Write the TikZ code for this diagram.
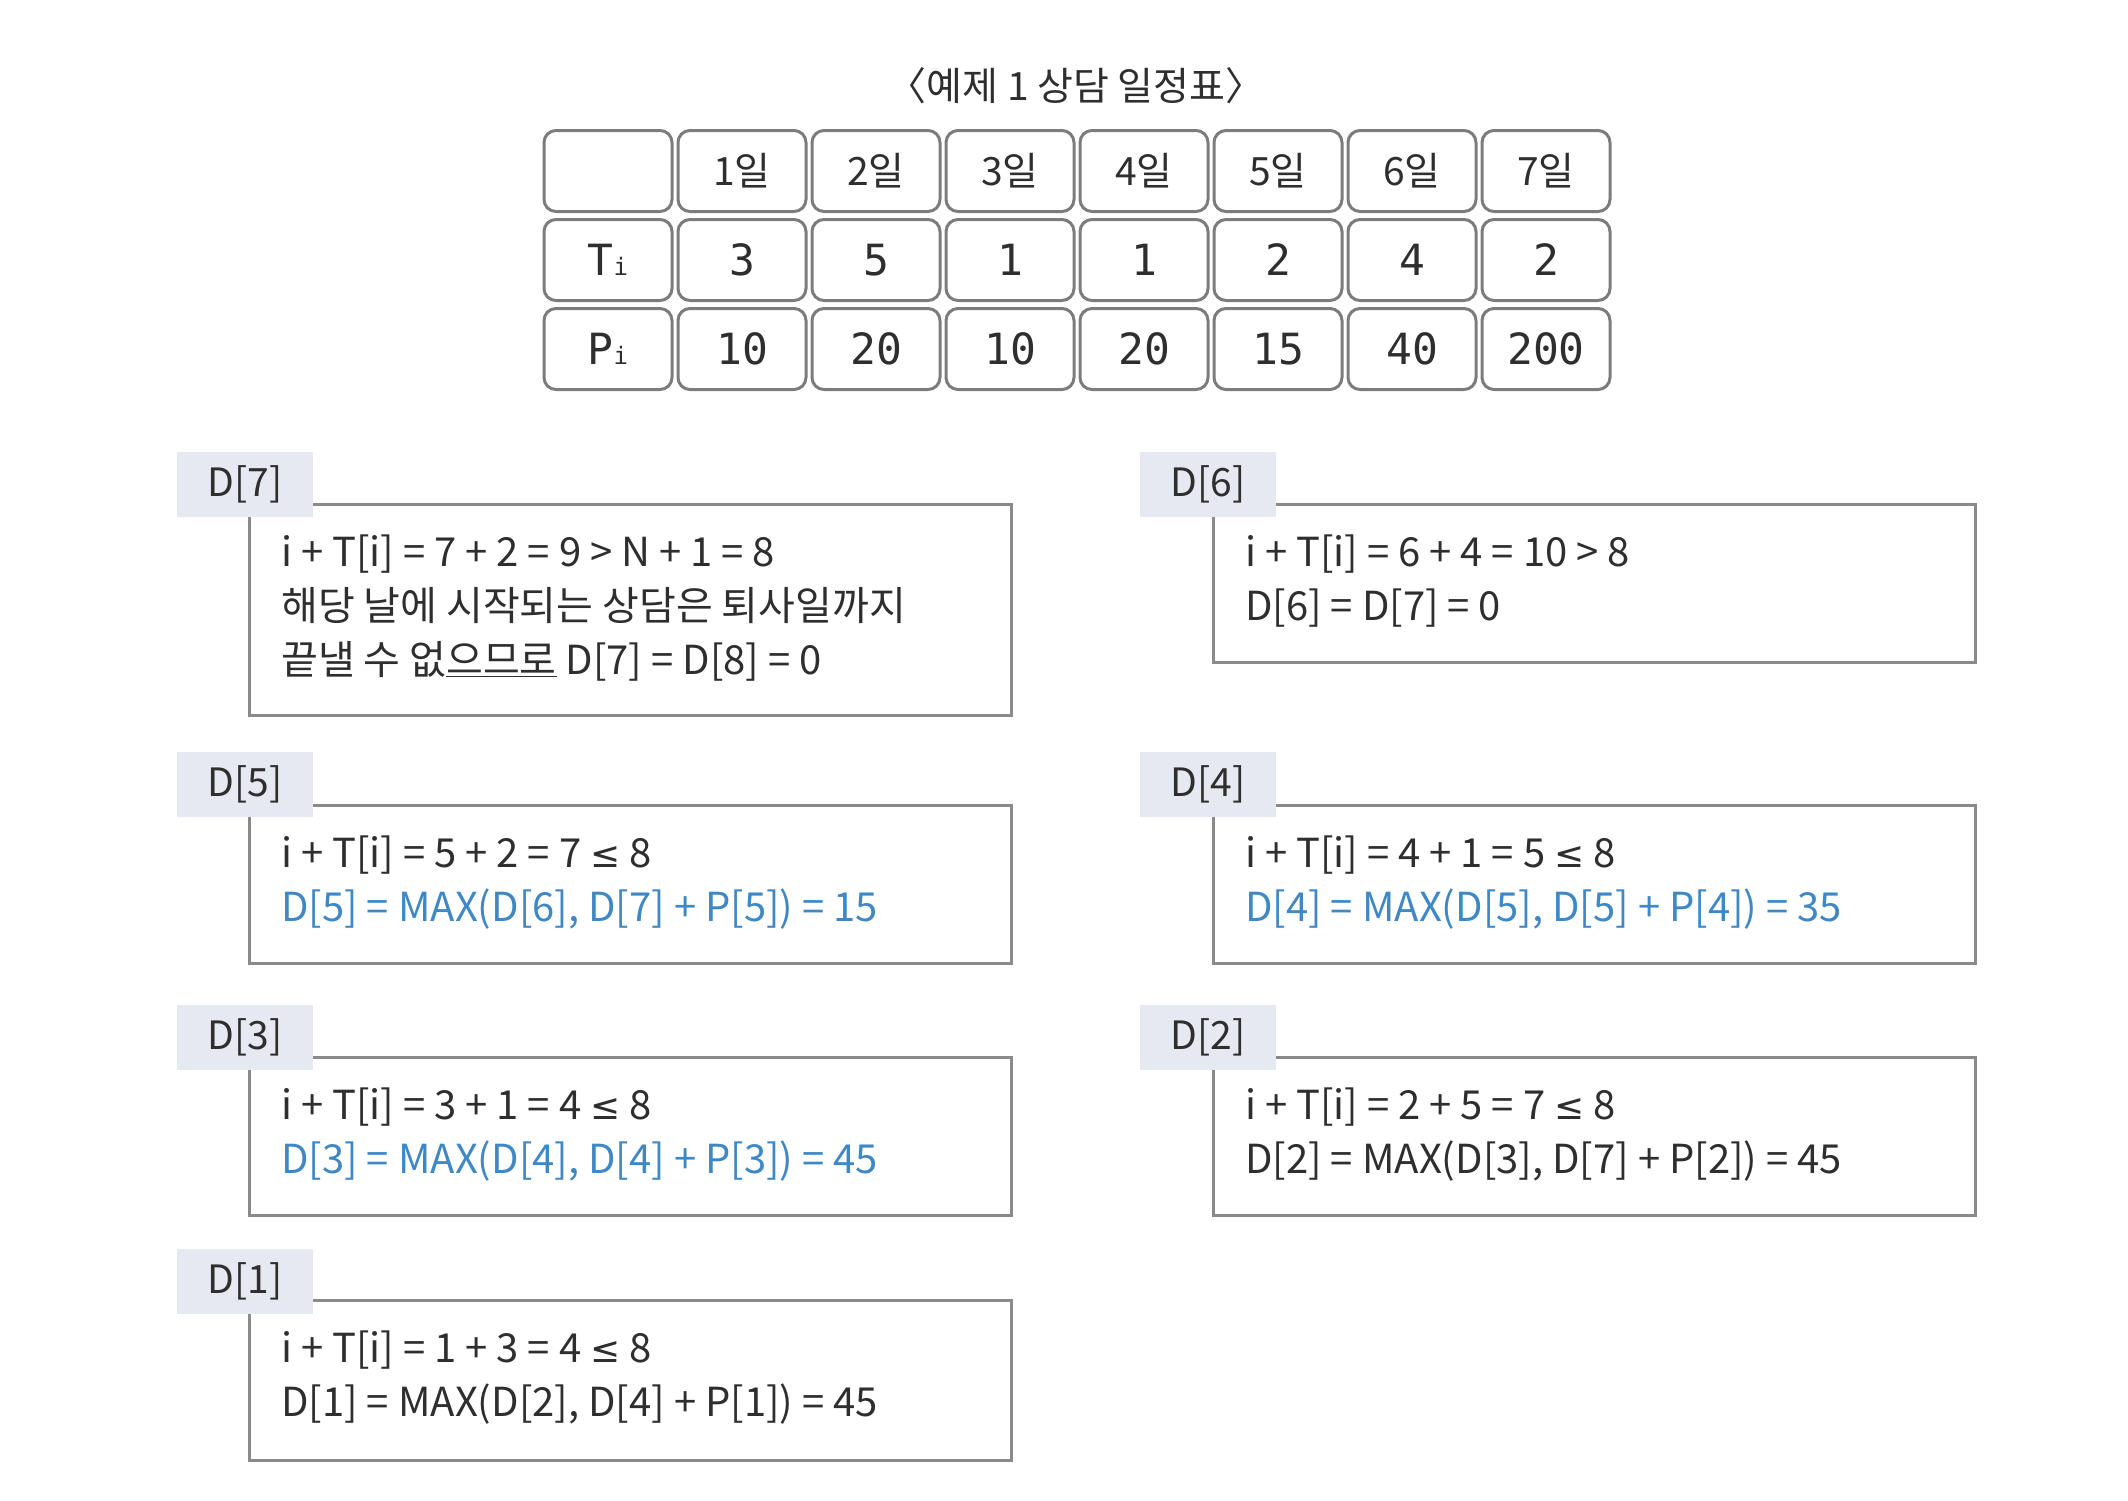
\documentclass[tikz,border=0pt]{standalone}
\usepackage{fontspec}
\setmainfont{Noto Sans CJK KR}
\newfontfamily\monofont{DejaVu Sans Mono}
\newfontfamily\symfont{DejaVu Sans}

\definecolor{tabgray}{HTML}{E6E9F1}
\definecolor{linegray}{HTML}{8A8A8A}
\definecolor{cellgray}{HTML}{7C7C7C}
\definecolor{textgray}{HTML}{2E2E2E}
\definecolor{formblue}{HTML}{3F88C5}

\tikzset{
    cell/.style={draw=cellgray, line width=3pt, rounded corners=12pt,
        minimum width=128pt, minimum height=81pt, inner sep=0pt,
        text=textgray, font=\monofont\fontsize{43}{43}\selectfont},
    daycell/.style={cell, font=\fontsize{39}{39}\selectfont},
    stepbox/.style={draw=linegray, line width=2.5pt, anchor=north west,
        inner sep=0pt, minimum width=762pt},
    dtab/.style={fill=tabgray, anchor=north west, minimum width=136pt,
        minimum height=65pt, inner sep=0pt, text=textgray,
        font=\fontsize{39}{39}\selectfont},
    dtext/.style={anchor=north west, align=left, inner sep=0pt,
        text=textgray, font=\fontsize{40}{54}\selectfont},
}

\newcommand{\sub}[1]{{\fontsize{24}{24}\selectfont #1}}
\newcommand{\leqsign}{{\symfont\fontsize{36}{36}\selectfont ≤}}

\begin{document}
\begin{tikzpicture}[x=1pt, y=-1pt]
            \useasboundingbox (0, 0) rectangle (2128, 1500);

            \node[text=textgray, font=\fontsize{39}{39}\selectfont] (title) at (1076, 86) {〈예제 1 상담 일정표〉};

            % day row
            \node[cell] (c0) at (608, 171) {};
            \node[daycell] (c1) at (742, 171) {1일};
            \node[daycell] (c2) at (876, 171) {2일};
            \node[daycell] (c3) at (1010, 171) {3일};
            \node[daycell] (c4) at (1144, 171) {4일};
            \node[daycell] (c5) at (1278, 171) {5일};
            \node[daycell] (c6) at (1412, 171) {6일};
            \node[daycell] (c7) at (1546, 171) {7일};

            % T row
            \node[cell] (t0) at (608, 260) {T\sub{i}};
            \node[cell] (t1) at (742, 260) {3};
            \node[cell] (t2) at (876, 260) {5};
            \node[cell] (t3) at (1010, 260) {1};
            \node[cell] (t4) at (1144, 260) {1};
            \node[cell] (t5) at (1278, 260) {2};
            \node[cell] (t6) at (1412, 260) {4};
            \node[cell] (t7) at (1546, 260) {2};

            % P row
            \node[cell] (p0) at (608, 349) {P\sub{i}};
            \node[cell] (p1) at (742, 349) {10};
            \node[cell] (p2) at (876, 349) {20};
            \node[cell] (p3) at (1010, 349) {10};
            \node[cell] (p4) at (1144, 349) {20};
            \node[cell] (p5) at (1278, 349) {15};
            \node[cell] (p6) at (1412, 349) {40};
            \node[cell] (p7) at (1546, 349) {200};

            % left column
            \node[stepbox, minimum height=211pt] (b7) at (248, 503) {};
            \node[dtab] (d7) at (177, 452) {D[7]};
            \node[dtext] (x7) at (281, 535) {i + T[i] = 7 + 2 = 9 > N + 1 = 8\\
                해당 날에 시작되는 상담은 퇴사일까지\\
                끝낼 수 없\underline{으므로} D[7] = D[8] = 0};

            \node[stepbox, minimum height=158pt] (b5) at (248, 804) {};
            \node[dtab] (d5) at (177, 752) {D[5]};
            \node[dtext] (x5) at (281, 836) {i + T[i] = 5 + 2 = 7 \leqsign{} 8\\
                \textcolor{formblue}{D[5] = MAX(D[6], D[7] + P[5]) = 15}};

            \node[stepbox, minimum height=158pt] (b3) at (248, 1056) {};
            \node[dtab] (d3) at (177, 1005) {D[3]};
            \node[dtext] (x3) at (281, 1088) {i + T[i] = 3 + 1 = 4 \leqsign{} 8\\
                \textcolor{formblue}{D[3] = MAX(D[4], D[4] + P[3]) = 45}};

            \node[stepbox, minimum height=160pt] (b1) at (248, 1299) {};
            \node[dtab] (d1) at (177, 1249) {D[1]};
            \node[dtext] (x1) at (281, 1331) {i + T[i] = 1 + 3 = 4 \leqsign{} 8\\
                D[1] = MAX(D[2], D[4] + P[1]) = 45};

            % right column
            \node[stepbox, minimum height=158pt] (b6) at (1212, 503) {};
            \node[dtab] (d6) at (1140, 452) {D[6]};
            \node[dtext] (x6) at (1245, 535) {i + T[i] = 6 + 4 = 10 > 8\\
                D[6] = D[7] = 0};

            \node[stepbox, minimum height=158pt] (b4) at (1212, 804) {};
            \node[dtab] (d4) at (1140, 752) {D[4]};
            \node[dtext] (x4) at (1245, 836) {i + T[i] = 4 + 1 = 5 \leqsign{} 8\\
                \textcolor{formblue}{D[4] = MAX(D[5], D[5] + P[4]) = 35}};

            \node[stepbox, minimum height=158pt] (b2) at (1212, 1056) {};
            \node[dtab] (d2) at (1140, 1005) {D[2]};
            \node[dtext] (x2) at (1245, 1088) {i + T[i] = 2 + 5 = 7 \leqsign{} 8\\
                D[2] = MAX(D[3], D[7] + P[2]) = 45};
        \end{tikzpicture}
\end{document}
